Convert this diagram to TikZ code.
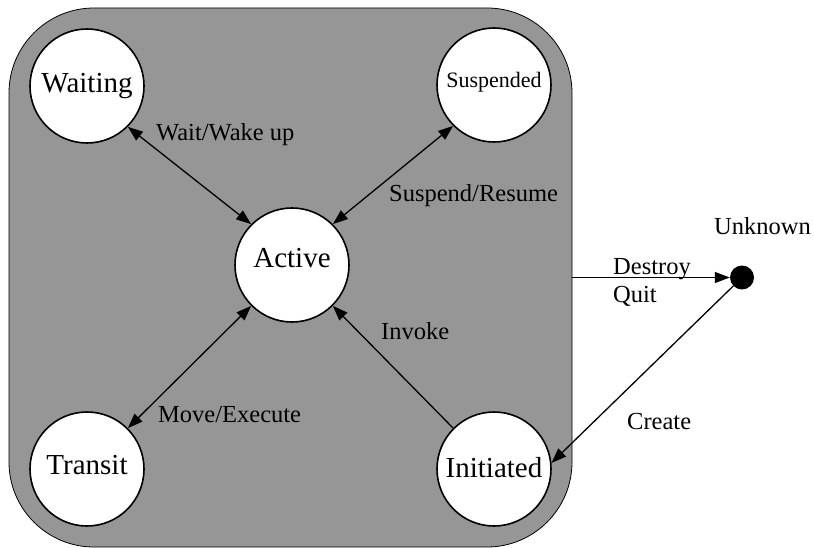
\documentclass[tikz,border=0pt]{standalone}
\usepackage{fontspec}
\setmainfont{Liberation Serif}
\usetikzlibrary{arrows.meta}
\definecolor{panelgrey}{RGB}{150,150,150}
\begin{document}
\begin{tikzpicture}[x=1pt,y=-1pt,
  state/.style={circle,draw,line width=1.6pt,fill=white,minimum size=114pt,inner sep=0pt,
    font=\fontsize{29}{32}\selectfont,text height=19pt,text depth=7pt},
  lbl/.style={font=\fontsize{24.5}{28}\selectfont,inner sep=0pt,anchor=base west},
  tip/.style={},
  link/.style={line width=1.3pt,{Triangle[length=15pt,width=11pt]}-{Triangle[length=15pt,width=11pt]}},
  oneway/.style={line width=1.3pt,-{Triangle[length=15pt,width=11pt]}}]
\useasboundingbox (0,0) rectangle (814,548);
\node[draw,line width=0.8pt,fill=panelgrey,rounded corners=85pt,minimum width=563pt,
  minimum height=539pt,inner sep=0pt] (frame) at (290.5,277.5) {};
\node[state,text depth=5pt] (wait) at (87,86) {Waiting};
\node[state,font=\fontsize{22}{24}\selectfont,text height=15pt,text depth=9pt] (susp) at (494,85) {Suspended};
\node[state,text depth=13pt] (act) at (292,265) {Active};
\node[state,text depth=9pt] (trans) at (87,469) {Transit};
\node[state,text depth=3pt] (init) at (494,469) {Initiated};
\node[circle,fill=black,minimum size=24pt,inner sep=0pt] (dot) at (742,277.5) {};
\draw[link] (wait.-45) -- (act.135);
\draw[link] (susp.-135) -- (act.45);
\draw[link] (trans.45) -- (act.-135);
\draw[oneway] (init.135) -- (act.-45);
\draw[oneway] (frame.east) -- (dot);
\draw[oneway] (dot) -- (init.6);
\node[lbl] (lwait) at (156,141) {Wait/Wake up};
\node[lbl] (lsusp) at (389,202) {Suspend/Resume};
\node[lbl] (lmove) at (158,422) {Move/Execute};
\node[lbl] (linv) at (381,339) {Invoke};
\node[lbl] (lcre) at (627,429) {Create};
\node[lbl] (ldes) at (613,274) {Destroy};
\node[lbl] (lquit) at (613,302) {Quit};
\node[lbl] (lunk) at (714,235) {Unknown};
\end{tikzpicture}
\end{document}
